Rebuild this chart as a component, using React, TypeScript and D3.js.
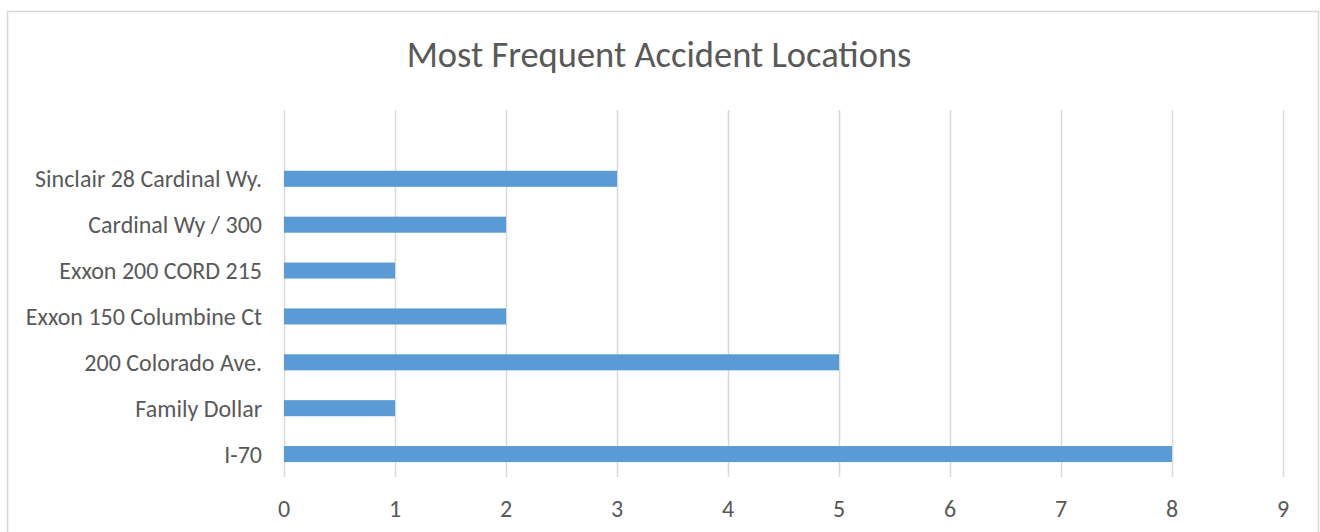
import { useEffect, useRef } from 'react';
import * as d3 from 'd3';

// top row is an empty category in the source sheet
const categories = [
  '',
  'Sinclair 28 Cardinal Wy.',
  'Cardinal Wy / 300',
  'Exxon 200 CORD 215',
  'Exxon 150 Columbine Ct',
  '200 Colorado Ave.',
  'Family Dollar',
  'I-70',
];
const counts: (number | null)[] = [null, 3, 2, 1, 2, 5, 1, 8];
const xTicks = [0, 1, 2, 3, 4, 5, 6, 7, 8, 9];
const title = 'Most Frequent Accident Locations';

const FONT = "Carlito, Calibri, Lato, sans-serif";

export default function App() {
  const ref = useRef<SVGSVGElement | null>(null);

  useEffect(() => {
    document.body.style.margin = '0';
    if (!ref.current) return;
    const width = 1320;
    const height = 532;
    const margin = { top: 110, right: 37, bottom: 55, left: 284 };

    const svg = d3.select(ref.current);
    svg.selectAll('*').remove();
    svg.attr('width', width).attr('height', height);

    svg
      .append('rect')
      .attr('width', width)
      .attr('height', height)
      .attr('fill', '#fff');

    // chart frame
    svg
      .append('rect')
      .attr('x', 7.5)
      .attr('y', 11.5)
      .attr('width', 1311)
      .attr('height', 560)
      .attr('fill', 'none')
      .attr('stroke', '#d9d9d9')
      .attr('stroke-width', 1.5);

    const x = d3
      .scaleLinear()
      .domain([0, 9])
      .range([margin.left, width - margin.right]);

    const y = d3
      .scaleBand()
      .domain(categories.map((c, i) => `${i}`))
      .range([margin.top, height - margin.bottom])
      .paddingInner(0.65)
      .paddingOuter(0.325);

    const grid = svg.append('g');
    xTicks.forEach(t => {
      grid
        .append('line')
        .attr('x1', Math.round(x(t)) + 0.5)
        .attr('x2', Math.round(x(t)) + 0.5)
        .attr('y1', margin.top)
        .attr('y2', height - margin.bottom)
        .attr('stroke', '#d9d9d9')
        .attr('stroke-width', 1.5);
    });

    svg
      .append('g')
      .selectAll('rect')
      .data(counts.map((v, i) => ({ v, i })).filter(d => d.v !== null))
      .join('rect')
      .attr('x', x(0))
      .attr('y', d => y(`${d.i}`)!)
      .attr('width', d => x(d.v!) - x(0))
      .attr('height', y.bandwidth())
      .attr('fill', '#5b9bd5');

    svg
      .append('g')
      .selectAll('text')
      .data(categories)
      .join('text')
      .attr('x', margin.left - 22)
      .attr('y', (_, i) => y(`${i}`)! + y.bandwidth() / 2 + 8.5)
      .attr('text-anchor', 'end')
      .attr('font-family', FONT)
      .attr('font-size', 24)
      .attr('fill', '#595959')
      .text(d => d);

    svg
      .append('g')
      .selectAll('text')
      .data(xTicks)
      .join('text')
      .attr('x', d => x(d))
      .attr('y', height - margin.bottom + 40)
      .attr('text-anchor', 'middle')
      .attr('font-family', FONT)
      .attr('font-size', 24)
      .attr('fill', '#595959')
      .text(d => d);

    svg
      .append('text')
      .attr('x', 659)
      .attr('y', 66.5)
      .attr('text-anchor', 'middle')
      .attr('font-family', FONT)
      .attr('font-size', 36.5)
      .attr('fill', '#595959')
      .text(title);
  }, []);

  return <svg ref={ref} style={{ display: 'block' }} />;
}
